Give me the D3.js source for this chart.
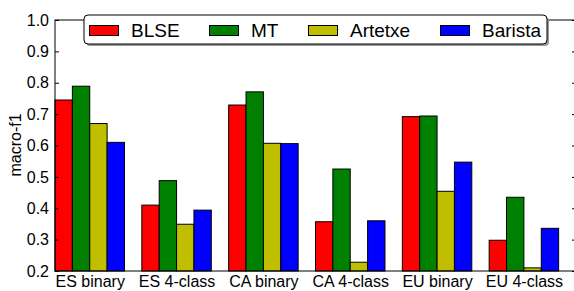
<!DOCTYPE html>
<html>
<head>
<meta charset="utf-8">
<script src="https://cdn.jsdelivr.net/npm/d3@7"></script>
<style>
  body { margin: 0; background: #fff; }
  text { font-family: "Liberation Sans", Arial, sans-serif; }
</style>
</head>
<body>
<div id="chart"></div>
<script>
const categories = ['ES binary', 'ES 4-class', 'CA binary', 'CA 4-class', 'EU binary', 'EU 4-class'];
const series = ['BLSE', 'MT', 'Artetxe', 'Barista'];
const colors = ['#ff0000', '#008000', '#bfbf00', '#0000ff'];

const blse    = [0.745, 0.410, 0.729, 0.357, 0.692, 0.298];
const mt      = [0.789, 0.488, 0.771, 0.525, 0.694, 0.435];
const artetxe = [0.670, 0.349, 0.607, 0.228, 0.454, 0.210];
const barista = [0.610, 0.394, 0.606, 0.360, 0.547, 0.336];
const values = [blse, mt, artetxe, barista];

const yTicks = [0.2, 0.3, 0.4, 0.5, 0.6, 0.7, 0.8, 0.9, 1.0];

const W = 574, H = 291;
const mLeft = 55, mRight = 576, mTop = 20, mBottom = 271;
const barW = 0.2;

const svg = d3.select('#chart').append('svg')
  .attr('width', W).attr('height', H);

const x = d3.scaleLinear().domain([0, 6]).range([mLeft, mRight]);
const y = d3.scaleLinear().domain([0.2, 1.0]).range([mBottom, mTop]);

// bars
series.forEach((s, si) => {
  svg.append('g').selectAll('rect')
    .data(values[si])
    .enter().append('rect')
    .attr('x', (d, i) => x(i + si * barW))
    .attr('width', x(barW) - x(0))
    .attr('y', d => y(d))
    .attr('height', d => y(0.2) - y(d))
    .attr('fill', colors[si])
    .attr('stroke', '#000')
    .attr('stroke-width', 1);
});

// frame
svg.append('rect')
  .attr('x', mLeft).attr('y', mTop)
  .attr('width', mRight - mLeft).attr('height', mBottom - mTop)
  .attr('fill', 'none').attr('stroke', '#000').attr('stroke-width', 1);

// left axis, ticks inward
const yAxis = svg.append('g')
  .attr('transform', `translate(${mLeft},0)`)
  .call(d3.axisLeft(y).tickValues(yTicks).tickFormat(d3.format('.1f'))
    .tickSizeInner(-4).tickSizeOuter(0).tickPadding(6));
yAxis.select('.domain').remove();
yAxis.selectAll('text').attr('font-size', 16).attr('fill', '#000')
  .attr('font-family', '"Liberation Sans", Arial, sans-serif');

// right ticks
svg.append('g')
  .attr('transform', `translate(${mRight},0)`)
  .call(d3.axisRight(y).tickValues(yTicks).tickFormat('')
    .tickSizeInner(-4).tickSizeOuter(0))
  .select('.domain').remove();

// x labels
const xAxis = svg.append('g')
  .attr('transform', `translate(0,${mBottom})`)
  .call(d3.axisBottom(x).tickValues(categories.map((c, i) => i + 0.4))
    .tickFormat((d, i) => categories[i]).tickSize(0).tickPadding(5));
xAxis.select('.domain').remove();
xAxis.selectAll('text').attr('font-size', 16).attr('fill', '#000')
  .attr('font-family', '"Liberation Sans", Arial, sans-serif');

// y label
svg.append('text')
  .attr('transform', 'translate(21,145) rotate(-90)')
  .attr('text-anchor', 'middle')
  .attr('font-size', 16)
  .text('macro-f1');

// legend
const lg = svg.append('g');
lg.append('rect')
  .attr('x', 86).attr('y', 17).attr('width', 463).attr('height', 29)
  .attr('rx', 4).attr('fill', '#999');
lg.append('rect')
  .attr('x', 84).attr('y', 15).attr('width', 463).attr('height', 29)
  .attr('rx', 4).attr('fill', '#fff').attr('stroke', '#000');

const legX = [89, 209, 308, 440];
series.forEach((s, si) => {
  lg.append('rect')
    .attr('x', legX[si] + 0.5).attr('y', 25.5)
    .attr('width', 29).attr('height', 10)
    .attr('fill', colors[si]).attr('stroke', '#000');
  lg.append('text')
    .attr('x', legX[si] + 42).attr('y', 37)
    .attr('font-size', 19)
    .text(s);
});
</script>
</body>
</html>
